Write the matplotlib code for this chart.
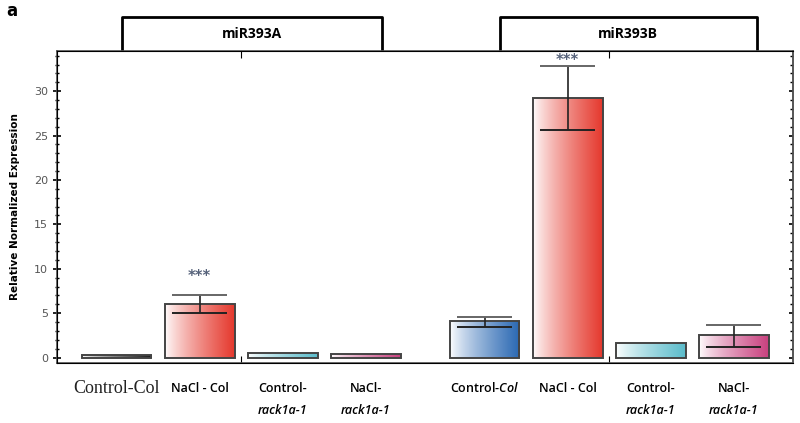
import numpy as np
import matplotlib
matplotlib.use("Agg")
import matplotlib.pyplot as plt
from matplotlib.colors import LinearSegmentedColormap
from matplotlib.transforms import blended_transform_factory

plt.rcParams['mathtext.fontset'] = 'custom'
plt.rcParams['mathtext.rm'] = 'Open Sans:semibold'
plt.rcParams['mathtext.it'] = 'Open Sans:italic:semibold'

# data
groups = ['miR393A', 'miR393B']
values_a = [0.25, 6.0, 0.55, 0.45]
low_a = [0.25, 5.0, 0.5, 0.4]
high_a = [0.25, 7.0, 0.6, 0.5]
values_b = [4.1, 29.2, 1.7, 2.5]
low_b = [3.5, 25.6, 1.75, 1.2]
high_b = [4.6, 32.8, 1.8, 3.7]
colors_a = ['#1a1a1a', '#e5382d', '#5bbccb', '#c9417f']
colors_b = ['#2a68b3', '#e5382d', '#5bbccb', '#c9417f']
stars = {1: 9.1, 5: 33.4}

values = values_a + values_b
lows = low_a + low_b
highs = high_a + high_b
colors = colors_a + colors_b
pos = [0, 1, 2, 3, 4.43, 5.43, 6.43, 7.43]
w = 0.84

fig = plt.figure(figsize=(8, 4.23), dpi=100)
ax = fig.add_axes([0.071, 0.142, 0.92, 0.737])

bars = ax.bar(pos, values, width=w, color='none', edgecolor='#444444', linewidth=1.4, zorder=3)
grad = np.linspace(0, 1, 256) ** 0.8
grad = grad.reshape(1, -1)
for b, c in zip(bars, colors):
    cmap = LinearSegmentedColormap.from_list('g', ['white', c])
    x0 = b.get_x()
    im = ax.imshow(grad, cmap=cmap, aspect='auto', extent=[x0, x0 + b.get_width(), 0, b.get_height()],
                   zorder=2, vmin=0, vmax=1)
    im.set_clip_path(b)

# error bars
for x, lo, hi in zip(pos, lows, highs):
    if hi - lo > 0.1:
        ax.vlines(x, lo, hi, color='#222222', lw=1.2, zorder=4)
        ax.hlines(hi, x - 0.33, x + 0.33, color='#666666', lw=1.4, zorder=4)
        ax.hlines(lo, x - 0.33, x + 0.33, color='#222222', lw=1.4, zorder=4)

for i, y in stars.items():
    ax.text(pos[i], y, '***', ha='center', va='center', fontsize=10.5, color='#56627a',
            fontweight='bold')

ax.set_xlim(-0.72, 8.14)
ax.set_ylim(-0.6, 34.5)
ax.set_yticks([0, 5, 10, 15, 20, 25, 30])
ax.set_yticks(np.arange(0, 35, 1), minor=True)
ax.tick_params(axis='y', which='major', direction='inout', length=6, width=1.2, labelsize=8,
               labelcolor='#555555')
ax.tick_params(axis='y', which='minor', direction='inout', length=3, width=1)
ax.set_xticks([1.5, 5.93])
ax.tick_params(axis='x', direction='in', length=5, top=True, labelbottom=False)
for s in ax.spines.values():
    s.set_color('#555555')
    s.set_linewidth(1.2)
ax.set_ylabel('Relative Normalized Expression', fontsize=7.5, fontweight='bold', labelpad=10)

# right side ticks, inward only
ax2 = ax.twinx()
ax2.set_ylim(ax.get_ylim())
ax2.set_yticks([0, 5, 10, 15, 20, 25, 30])
ax2.set_yticks(np.arange(0, 35, 1), minor=True)
ax2.tick_params(axis='y', which='major', direction='in', length=3, width=1.2, labelright=False)
ax2.tick_params(axis='y', which='minor', direction='in', length=2, width=1)
ax2.spines['right'].set_color('#555555')
ax2.spines['right'].set_linewidth(1.2)

# x labels
trans = blended_transform_factory(ax.transData, fig.transFigure)
ax.text(pos[0], 1 - 388 / 423, 'Control-Col', transform=trans, ha='center', va='center',
        fontsize=13, family='Liberation Serif', color='#222222')
ax.text(pos[1], 1 - 388 / 423, 'NaCl - Col', transform=trans, ha='center', va='center',
        fontsize=9, family='Open Sans', fontweight='semibold')
ax.text(pos[4], 1 - 388 / 423, r'Control-$\mathit{Col}$', transform=trans, ha='center', va='center',
        fontsize=9, family='Open Sans', fontweight='semibold')
ax.text(pos[5], 1 - 388 / 423, 'NaCl - Col', transform=trans, ha='center', va='center',
        fontsize=9, family='Open Sans', fontweight='semibold')
for i, first in [(2, 'Control-'), (3, 'NaCl-'), (6, 'Control-'), (7, 'NaCl-')]:
    ax.text(pos[i], 1 - 388 / 423, first, transform=trans, ha='center', va='center',
            fontsize=9, family='Open Sans', fontweight='semibold')
    ax.text(pos[i], 1 - 410 / 423, 'rack1a-1', transform=trans, ha='center', va='center',
            fontsize=9, family='Open Sans', fontweight='semibold', style='italic')

# group brackets
bt = blended_transform_factory(ax.transData, ax.transAxes)
for name, (x0, x1) in zip(groups, [(0.07, 3.19), (4.61, 7.71)]):
    ax.plot([x0, x0, x1, x1], [1.003, 1.109, 1.109, 1.003], color='black', lw=2,
            transform=bt, clip_on=False, solid_joinstyle='round')
    ax.text((x0 + x1) / 2, 1.056, name, transform=bt, ha='center', va='center',
            fontsize=10, fontweight='bold', family='Open Sans')

fig.text(0.008, 0.975, 'a', fontsize=12, fontweight='bold', va='center')

fig.savefig('out.png', dpi=100)
